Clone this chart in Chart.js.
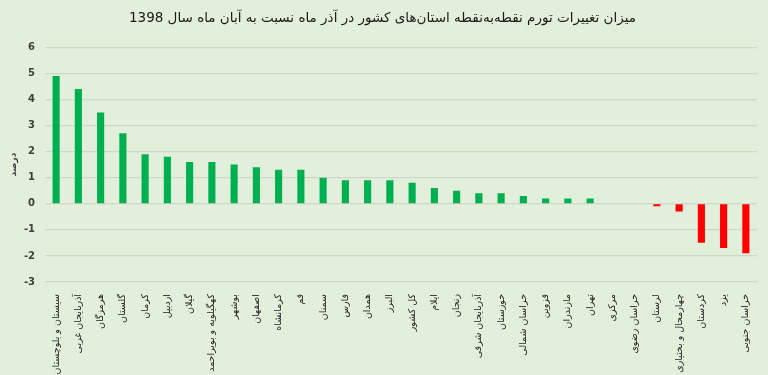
<!DOCTYPE html>
<html>
<head>
<meta charset="utf-8">
<script src="https://cdn.jsdelivr.net/npm/chart.js@4/dist/chart.umd.min.js"></script>
<style>
html,body{margin:0;padding:0;background:#e2efda;overflow:hidden;}
canvas{display:block;}
</style>
</head>
<body>
<canvas id="c" width="768" height="375"></canvas>
<script>
const titleText = "میزان تغییرات تورم نقطه‌به‌نقطه استان‌های کشور در آذر ماه نسبت به آبان ماه سال 1398";
const yAxisTitle = "درصد";
const provinces = [
  "سیستان و بلوچستان","آذربایجان غربی","هرمزگان","گلستان","کرمان","اردبیل","گیلان",
  "کهگیلویه و بویراحمد","بوشهر","اصفهان","کرمانشاه","قم","سمنان","فارس","همدان","البرز",
  "کل کشور","ایلام","زنجان","آذربایجان شرقی","خوزستان","خراسان شمالی","قزوین","مازندران",
  "تهران","مرکزی","خراسان رضوی","لرستان","چهارمحال و بختیاری","کردستان","یزد","خراسان جنوبی"
];
const changes = [4.9,4.4,3.5,2.7,1.9,1.8,1.6,1.6,1.5,1.4,1.3,1.3,1.0,0.9,0.9,0.9,0.8,0.6,0.5,0.4,0.4,0.3,0.2,0.2,0.2,0,0,-0.1,-0.3,-1.5,-1.7,-1.9];
const yTicks = [-3,-2,-1,0,1,2,3,4,5,6];

const fontFam = "'DejaVu Sans', 'Noto Sans', sans-serif";
new Chart(document.getElementById('c'), {
  type: 'bar',
  data: {
    labels: provinces,
    datasets: [{
      data: changes,
      backgroundColor: changes.map(v => v < 0 ? '#ff0000' : '#00b050'),
      barPercentage: 0.32,
      categoryPercentage: 1.0
    }]
  },
  options: {
    responsive: false,
    animation: false,
    layout: { padding: { left: 8, right: 11, top: 0, bottom: 0 } },
    plugins: {
      legend: { display: false },
      tooltip: { enabled: false },
      title: {
        display: true,
        text: titleText,
        color: '#1a1a1a',
        font: { family: fontFam, size: 13.5, weight: 'normal' },
        padding: { top: 10, bottom: 21 }
      }
    },
    scales: {
      x: {
        grid: { display: false },
        border: { display: false },
        ticks: {
          autoSkip: false,
          maxRotation: 90, minRotation: 90,
          color: '#262626',
          font: { family: fontFam, size: 9.5 },
          padding: 4
        },
        afterFit(s) { s.height = 93; }
      },
      y: {
        min: -3, max: 6,
        afterBuildTicks(s) { s.ticks = yTicks.map(v => ({ value: v })); },
        grid: { color: '#d0d6cc', lineWidth: 1.2, drawTicks: false },
        border: { display: false },
        ticks: {
          color: '#404040',
          font: { family: fontFam, size: 10, weight: 'bold' },
          padding: 10
        },
        title: {
          display: true,
          text: yAxisTitle,
          color: '#404040',
          font: { family: fontFam, size: 9, weight: 'bold' },
          padding: { top: 0, bottom: 2 }
        },
        afterFit(s) { s.width = 37; }
      }
    }
  }
});
</script>
</body>
</html>
